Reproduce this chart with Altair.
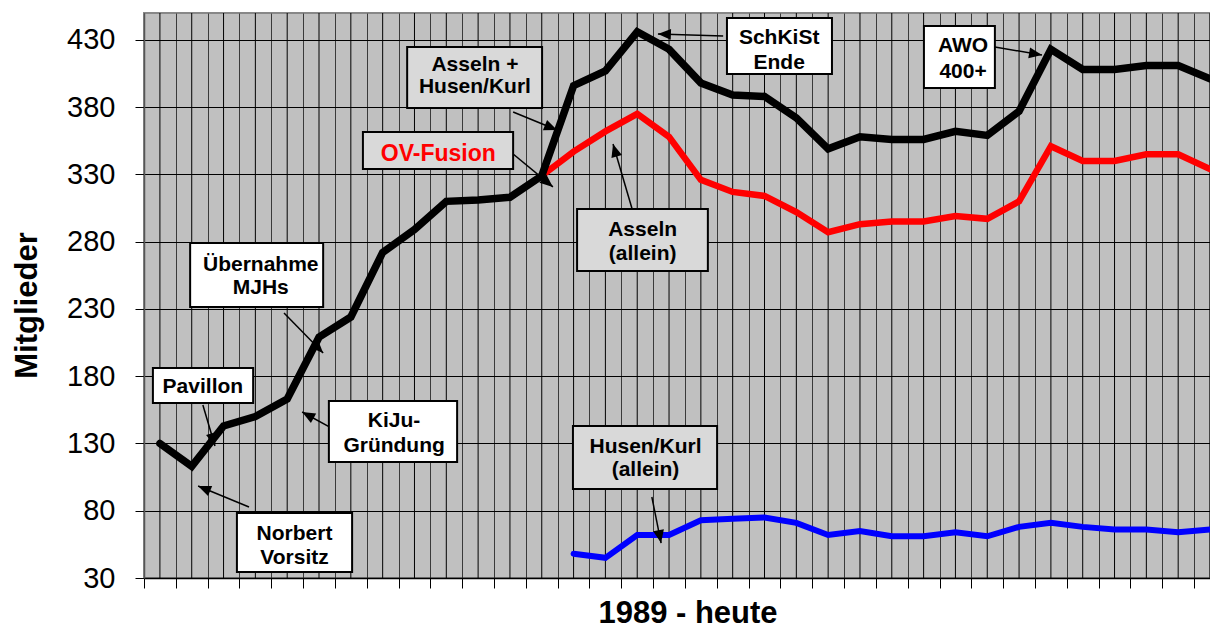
import math
import altair as alt
import pandas as pd

# ---------------- data ----------------
# category index 0..33 (1989 - heute)
periode = list(range(34))
gesamt = [130, 113, 143, 150, 163, 209, 224, 272, 289, 310, 311, 313, 329, 396, 407, 436, 423,
          398, 389, 388, 372, 349, 358, 356, 356, 362, 359, 377, 423, 408, 408, 411, 411, 401]
asseln_periode = list(range(12, 34))
asseln = [329, 347, 362, 375, 358, 326, 317, 314, 302, 287, 293, 295, 295, 299, 297, 310,
          351, 340, 340, 345, 345, 334]
husen_periode = list(range(13, 34))
husen = [48, 45, 62, 62, 73, 74, 75, 71, 62, 65, 61, 61, 64, 61, 68, 71, 68, 66, 66, 64, 66]

y_ticks = [30, 80, 130, 180, 230, 280, 330, 380, 430]
x_grenzen = [i - 0.5 for i in range(34)]

# annotation boxes (data units)
box_name = ["Pavillon", "Norbert", "KiJu", "Übernahme", "OV-Fusion", "Asseln+",
            "SchKiSt", "AWO", "Asseln", "Husen"]
box_art = ["weiss", "weiss", "weiss", "weiss", "grau", "grau", "weiss", "weiss", "grau", "grau"]
box_x0 = [-0.22, 2.42, 5.31, 0.95, 6.38, 7.77, 17.82, 24.01, 13.11, 12.98]
box_x1 = [2.93, 6.04, 9.34, 5.13, 11.10, 12.01, 21.12, 26.24, 17.22, 17.51]
box_y0 = [160.1, 34.5, 116.2, 231.5, 334.0, 379.4, 404.7, 394.3, 258.2, 96.2]
box_y1 = [186.1, 78.3, 161.6, 279.0, 361.6, 424.7, 446.3, 440.3, 304.3, 143.0]

# annotation text lines
txt = ["Pavillon", "Norbert", "Vorsitz", "KiJu-", "Gründung", "Übernahme", "MJHs",
       "OV-Fusion", "Asseln +", "Husen/Kurl", "SchKiSt", "Ende", "AWO", "400+",
       "Asseln", "(allein)", "Husen/Kurl", "(allein)"]
txt_art = ["schwarz"] * 7 + ["rot"] + ["schwarz"] * 10
txt_x = [1.35, 4.23, 4.23, 7.36, 7.36, 3.17, 3.17, 8.75, 9.90, 9.90, 19.46, 19.46,
         25.24, 25.24, 15.17, 15.17, 15.26, 15.26]
txt_y = [172.0, 62.8, 44.9, 146.4, 128.2, 262.7, 245.3, 345.2, 411.7, 394.8, 431.5,
         412.5, 425.3, 406.3, 288.9, 270.9, 127.6, 110.5]

# arrows: start -> tip
arr_x0 = [1.35, 2.80, 5.44, 3.90, 11.10, 11.10, 17.70, 26.24, 14.84, 15.46]
arr_y0 = [158.6, 82.8, 140.8, 227.0, 345.2, 376.4, 432.9, 424.7, 304.3, 90.2]
arr_x1 = [1.73, 1.20, 4.47, 5.13, 12.35, 12.48, 15.65, 27.72, 14.24, 15.75]
arr_y1 = [128.1, 98.4, 153.4, 197.3, 320.7, 363.0, 434.4, 418.8, 352.6, 56.0]

# ---------------- layout ----------------
W, H = 1066, 565
X_DOM = [-0.5, 33.0]
Y_DOM = [30, 450]
px_x = W / (X_DOM[1] - X_DOM[0])
px_y = H / (Y_DOM[1] - Y_DOM[0])

FONT = "Liberation Sans"

x_scale = alt.Scale(domain=X_DOM, nice=False, zero=False)
y_scale = alt.Scale(domain=Y_DOM, nice=False, zero=False)

x_axis = alt.Axis(values=x_grenzen, grid=True, gridColor="#3a3a3a", gridWidth=1,
                  labels=False, ticks=True, tickSize=10, tickColor="#000000", tickWidth=1,
                  domain=True, domainColor="#000000", domainWidth=1.5,
                  title="1989 - heute", titleFont=FONT, titleFontSize=31,
                  titleFontWeight="bold", titleColor="#000000",
                  titleX=543.5, titleY=44, titleBaseline="alphabetic", titleAlign="center")
y_axis = alt.Axis(values=y_ticks, grid=True, gridColor="#000000", gridWidth=1,
                  tickSize=9, tickColor="#000000", tickWidth=1,
                  labelFont=FONT, labelFontSize=29, labelColor="#000000", labelPadding=20,
                  labelOverlap=False, domainColor="#555555", domainWidth=1.5,
                  title="Mitglieder", titleFont=FONT, titleFontSize=31,
                  titleFontWeight="bold", titleColor="#000000", titleAngle=270,
                  titleX=-107.5, titleY=292, titleBaseline="alphabetic", titleAlign="center")


def X(f):
    return alt.X(f, type="quantitative", scale=x_scale, axis=x_axis)


def Y(f):
    return alt.Y(f, type="quantitative", scale=y_scale, axis=y_axis)


# ---------------- frames ----------------
mitte = pd.DataFrame({"x": periode, "unten": Y_DOM[0], "oben": Y_DOM[1]})
df_g = pd.DataFrame({"x": periode, "y": gesamt})
df_a = pd.DataFrame({"x": asseln_periode, "y": asseln})
df_h = pd.DataFrame({"x": husen_periode, "y": husen})
df_box = pd.DataFrame({"name": box_name, "art": box_art, "x0": box_x0, "x1": box_x1,
                       "y0": box_y0, "y1": box_y1})
df_txt = pd.DataFrame({"t": txt, "art": txt_art, "x": txt_x, "y": txt_y})
winkel = []
for a, b, c, d in zip(arr_x0, arr_y0, arr_x1, arr_y1):
    dx = (c - a) * px_x
    dy = -(d - b) * px_y
    winkel.append(math.degrees(math.atan2(dx, -dy)) % 360)
df_arr = pd.DataFrame({"x0": arr_x0, "y0": arr_y0, "x1": arr_x1, "y1": arr_y1, "w": winkel})

# ---------------- layers ----------------
grid_mid = alt.Chart(mitte).mark_rule(color="#000000", strokeWidth=1).encode(
    x=X("x"), y=Y("unten"), y2="oben")

line_a = alt.Chart(df_a).mark_line(color="#ff0000", strokeWidth=6.5, strokeCap="round").encode(
    x=X("x"), y=Y("y"))
line_h = alt.Chart(df_h).mark_line(color="#0000ff", strokeWidth=6, strokeCap="round").encode(
    x=X("x"), y=Y("y"))
line_g = alt.Chart(df_g).mark_line(color="#000000", strokeWidth=7.5, strokeCap="round").encode(
    x=X("x"), y=Y("y"))

boxes = alt.Chart(df_box).mark_rect(stroke="#000000", strokeWidth=2).encode(
    x=X("x0"), x2="x1", y=Y("y0"), y2="y1",
    fill=alt.Fill("art:N", scale=alt.Scale(domain=["weiss", "grau"],
                                           range=["#ffffff", "#d9d9d9"]), legend=None))

texts = alt.Chart(df_txt).transform_filter(alt.datum.art == "schwarz").mark_text(
    font=FONT, fontSize=21, fontWeight="bold", color="#000000",
    align="center", baseline="middle").encode(x=X("x"), y=Y("y"), text="t:N")
text_rot = alt.Chart(df_txt).transform_filter(alt.datum.art == "rot").mark_text(
    font=FONT, fontSize=23, fontWeight="bold", color="#ff0000",
    align="center", baseline="middle").encode(x=X("x"), y=Y("y"), text="t:N")

arr_lines = alt.Chart(df_arr).mark_rule(color="#000000", strokeWidth=1.5).encode(
    x=X("x0"), y=Y("y0"), x2="x1", y2="y1")
arr_heads = alt.Chart(df_arr).mark_point(
    shape="M0,0L-0.42,1L0.42,1Z", filled=True, color="#000000", opacity=1,
    size=676, strokeWidth=0).encode(
    x=X("x1"), y=Y("y1"), angle=alt.Angle("w:Q", scale=None))

chart = alt.layer(grid_mid, line_a, line_h, line_g, arr_lines, arr_heads, boxes, texts, text_rot).properties(
    width=W, height=H,
    padding={"left": 136, "top": 5, "right": 0, "bottom": 52},
    autosize=alt.AutoSizeParams(type="none"),
).configure(font=FONT).configure_view(fill="#c0c0c0", stroke="#888888", strokeWidth=2)

chart.save("out.html", embed_options={"renderer": "svg", "actions": False})
